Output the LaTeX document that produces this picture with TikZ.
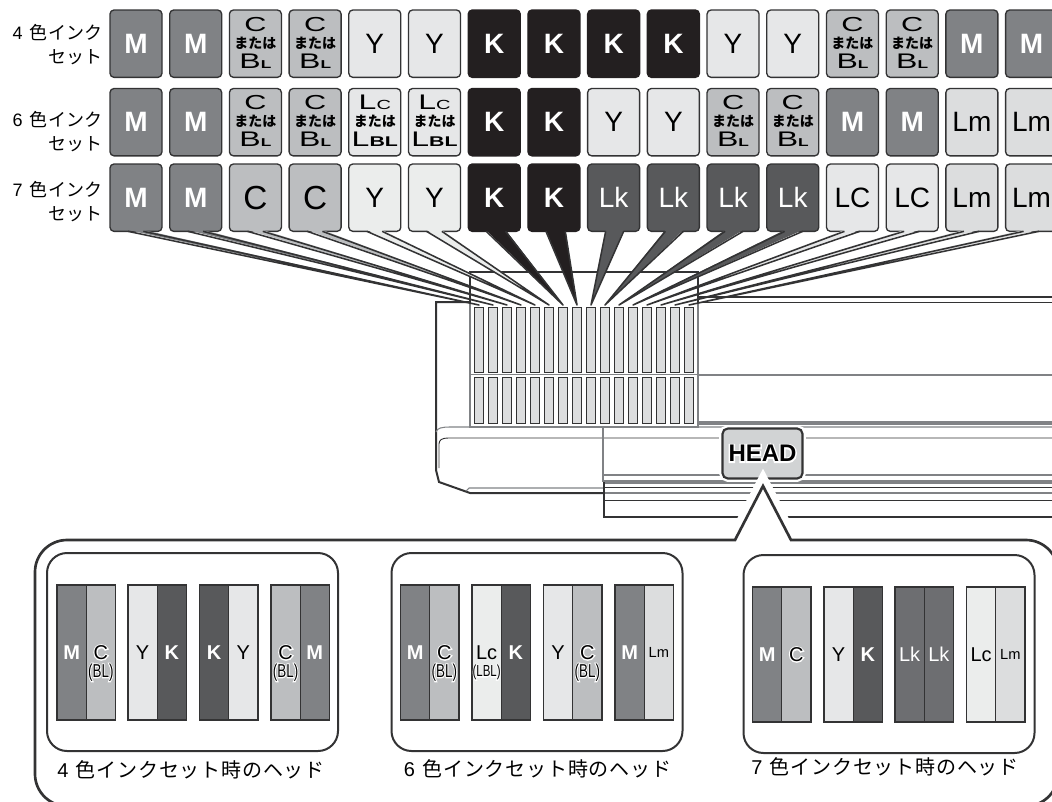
\documentclass[tikz,border=0pt]{standalone}
\usepackage{fontspec}
\usetikzlibrary{positioning}
\setmainfont{Liberation Sans}
\newfontfamily\jpfont{Noto Sans CJK JP}[LetterSpace=2]
\newfontfamily\jpwide{Noto Sans CJK JP}[LetterSpace=4]
\newfontfamily\jpsmall{Noto Sans CJK JP}
\newfontfamily\halofont{Liberation Sans}[FakeBold=12]
\newfontfamily\haloheavy{Liberation Sans Bold}[FakeBold=12]
\definecolor{inkm}   {HTML}{808285}
\definecolor{inkc}   {HTML}{BCBEC0}
\definecolor{inky}   {HTML}{E6E7E8}
\definecolor{inkyb}  {HTML}{EBEDEC}
\definecolor{inkk}   {HTML}{231F20}
\definecolor{inkkh}  {HTML}{58595B}
\definecolor{inklk}  {HTML}{6D6E71}
\definecolor{inklm}  {HTML}{DCDDDE}
\definecolor{inkhead}{HTML}{D1D3D4}
\definecolor{edge}   {HTML}{333334}
\definecolor{rule}   {HTML}{808285}
\newcommand{\squat}[1]{\scalebox{1}[.66]{#1}}
\newcommand{\sized}[1]{\fontsize{#1}{#1}\selectfont}
\newcommand{\orword}{{\jpsmall\bfseries\sized{10.5}または}}
\newcommand{\bigcc}{\squat{\sized{23}C}}
\newcommand{\bigbl}{\squat{\sized{24}B{\sized{13}\textbf{L}}}}
\newcommand{\biglc}{\squat{\sized{24}L{\sized{15}C}}}
\newcommand{\biglbl}{\squat{\sized{24}L{\sized{16}\textbf{BL}}}}
\newcommand{\tiers}[2]{\raisebox{-4.4pt}[0pt][0pt]{\parbox{39pt}{\centering #1\\[-1.25pt]\orword\\[1pt]#2}}}
\newcommand{\halo}[1]{\leavevmode\rlap{\color{white}\halofont #1}#1}
\newcommand{\haloh}[1]{\leavevmode\rlap{\color{white}\haloheavy #1}#1}
\begin{document}
\begin{tikzpicture}[
    x=0.75pt, y=-0.75pt,
    node distance=5.78pt and 5.78pt,
    box/.style={draw=edge, rounded corners=3pt, line width=1pt, outer sep=0pt, inner sep=0pt,
                minimum width=39pt, minimum height=50.5pt, align=center,
                font=\fontsize{21}{14}\selectfont},
    mbox/.style={box, fill=inkm, text=white, font=\fontsize{21}{14}\selectfont\bfseries},
    cbox/.style={box, fill=inkc},
    ybox/.style={box, fill=inky},
    yyox/.style={box, fill=inkyb},
    kbox/.style={box, fill=inkk, draw=inkk, text=white, font=\fontsize{21}{14}\selectfont\bfseries},
    lkbox/.style={box, fill=inkkh, text=white},
    lmbox/.style={box, fill=inklm},
    tail/.style={draw=edge, line width=1.15pt, line join=round},
    setlabel/.style={anchor=east, align=right, inner sep=0pt, font=\fontsize{13.5}{18}\selectfont},
    slot/.style={draw=edge, fill=inklm, line width=0.75pt, minimum width=7.4pt, inner sep=0pt, outer sep=0pt},
    linedark/.style={draw=edge, line width=1.5pt},
    linethin/.style={draw=edge, line width=0.7pt},
    linegray/.style={draw=rule, line width=0.8pt},
    headbox/.style={draw=edge, fill=inkhead, rounded corners=4pt, line width=1.6pt,
                    minimum width=60pt, minimum height=37.5pt, inner sep=0pt,
                    preaction={draw=white, line width=5pt},
                    font=\fontsize{18}{18}\selectfont\bfseries},
    panel/.style={draw=edge, rounded corners=15pt, line width=1.5pt, inner sep=0pt,
                  minimum width=218.25pt, minimum height=148.5pt},
    bar/.style={draw=edge, line width=0.9pt, inner sep=0pt, outer sep=0pt,
                minimum width=21.9pt, minimum height=101.25pt,
                font=\fontsize{15}{15}\selectfont},
    barbold/.style={bar, text=white, font=\fontsize{15}{15}\selectfont\bfseries},
    barwhite/.style={bar, text=white},
    sub/.style={label={[inner sep=0pt, yshift=-15pt, font=\fontsize{14}{14}\selectfont]center:
                \scalebox{.72}[1]{\halo{#1}}}},
    headlabel/.style={anchor=west, inner sep=0pt, font=\fontsize{15}{15}\selectfont},
  ]
    \path[use as bounding box, clip] (0,0) rectangle (1052,801);

    \draw[linethin] (698,302) -- (1060,302);
    \draw[linedark] (698,297) -- (1060,297);
    \draw[linegray] (698,375) -- (1060,375);
    \draw[linegray] (698,422) -- (1060,422);
    \draw[linegray] (698,424) -- (1060,424);
    \draw[linedark] (470,302) -- (436,302) -- (436,470) -- (439,482) -- (470,493) -- (604,493);
    \draw[linegray] (436,432) .. controls (437,428) and (442,427) .. (450,427) -- (1060,427);
    \draw[linethin] (439,468) -- (439,444) .. controls (439,440) and (442,438) .. (448,438) -- (1060,438);
    \draw[linegray] (466,491) -- (469,488) -- (604,488);
    \draw[linegray] (603,427) -- (603,482);
    \draw[linegray] (603,475) -- (1060,475);
    \draw[linegray] (603,481) -- (1060,481);
    \draw[linegray] (603,483) -- (1060,483);
    \draw[linethin] (603,487) -- (1060,487);
    \draw[linegray] (603,493) -- (1060,493);
    \draw[linethin] (603,500) -- (1060,500);
    \draw[linedark] (604,482) -- (604,517) -- (1060,517);

    \draw[linedark] (470,303) -- (470,272) -- (698,272) -- (698,303);
    \draw[linegray] (470,303) -- (470,427) -- (698,427) -- (698,303);
    \draw[linegray] (470,374.5) -- (698,374.5);
    \foreach \n in {1,...,16}{
      \node[slot, minimum height=48.75pt] (s\n) at ({465+14*\n},339.5) {};
      \node[slot, minimum height=34.5pt] (r\n) at ({465+14*\n},400) {};
    }

    \node[setlabel] (labfour) at (103,45)
      {4\hspace{1.5pt} {\jpfont 色インク}\\{\jpfont セット}};
    \node[setlabel] (labsix) at (103,131.5)
      {6\hspace{1.5pt} {\jpfont 色インク}\\{\jpfont セット}};
    \node[setlabel] (labseven) at (103,201.5)
      {7\hspace{1.5pt} {\jpfont 色インク}\\{\jpfont セット}};

    \node[mbox, anchor=north west] (a1) at (110,10) {M};
    \node[mbox, right=of a1] (a2) {M};
    \node[cbox, right=of a2] (a3) {\tiers{\bigcc}{\bigbl}};
    \node[cbox, right=of a3] (a4) {\tiers{\bigcc}{\bigbl}};
    \node[ybox, right=of a4] (a5) {Y};
    \node[ybox, right=of a5] (a6) {Y};
    \node[kbox, right=of a6] (a7) {K};
    \node[kbox, right=of a7] (a8) {K};
    \node[kbox, right=of a8] (a9) {K};
    \node[kbox, right=of a9] (a10) {K};
    \node[ybox, right=of a10] (a11) {Y};
    \node[ybox, right=of a11] (a12) {Y};
    \node[cbox, right=of a12] (a13) {\tiers{\bigcc}{\bigbl}};
    \node[cbox, right=of a13] (a14) {\tiers{\bigcc}{\bigbl}};
    \node[mbox, right=of a14] (a15) {M};
    \node[mbox, right=of a15] (a16) {M};

    \node[mbox, anchor=north west] (b1) at (110,88.5) {M};
    \node[mbox, right=of b1] (b2) {M};
    \node[cbox, right=of b2] (b3) {\tiers{\bigcc}{\bigbl}};
    \node[cbox, right=of b3] (b4) {\tiers{\bigcc}{\bigbl}};
    \node[ybox, right=of b4] (b5) {\tiers{\biglc}{\biglbl}};
    \node[ybox, right=of b5] (b6) {\tiers{\biglc}{\biglbl}};
    \node[kbox, right=of b6] (b7) {K};
    \node[kbox, right=of b7] (b8) {K};
    \node[ybox, right=of b8] (b9) {Y};
    \node[ybox, right=of b9] (b10) {Y};
    \node[cbox, right=of b10] (b11) {\tiers{\bigcc}{\bigbl}};
    \node[cbox, right=of b11] (b12) {\tiers{\bigcc}{\bigbl}};
    \node[mbox, right=of b12] (b13) {M};
    \node[mbox, right=of b13] (b14) {M};
    \node[lmbox, right=of b14] (b15) {Lm};
    \node[lmbox, right=of b15] (b16) {Lm};

    \node[mbox, anchor=north west] (c1) at (110,164) {M};
    \node[mbox, right=of c1] (c2) {M};
    \node[cbox, right=of c2, font=\fontsize{25}{25}\selectfont] (c3) {C};
    \node[cbox, right=of c3, font=\fontsize{25}{25}\selectfont] (c4) {C};
    \node[yyox, right=of c4] (c5) {Y};
    \node[yyox, right=of c5] (c6) {Y};
    \node[kbox, right=of c6] (c7) {K};
    \node[kbox, right=of c7] (c8) {K};
    \node[lkbox, right=of c8] (c9) {Lk};
    \node[lkbox, right=of c9] (c10) {Lk};
    \node[lkbox, right=of c10] (c11) {Lk};
    \node[lkbox, right=of c11] (c12) {Lk};
    \node[ybox, right=of c12] (c13) {LC};
    \node[ybox, right=of c13] (c14) {LC};
    \node[lmbox, right=of c14] (c15) {Lm};
    \node[lmbox, right=of c15] (c16) {Lm};

    \foreach \n/\col/\wide in {1/inkm/25,2/inkm/25,3/inkc/25,4/inkc/25,5/inkyb/25,6/inkyb/25,
        7/inkk/28,8/inkk/28,9/inkkh/27,10/inkkh/27,11/inkkh/27,12/inkkh/27,
        13/inky/25,14/inky/25,15/inklm/25,16/inklm/25}{
      \fill[\col] ([xshift=13.5pt, yshift=1pt]c\n.south west) -- ([yshift=1.5pt]s\n.north)
        -- ([xshift=\wide pt, yshift=1pt]c\n.south west) -- cycle;
      \draw[tail] ([xshift=13.5pt]c\n.south west) -- ([yshift=1.5pt]s\n.north)
        -- ([xshift=\wide pt]c\n.south west);
    }

    \node[headbox] (head) at (762.5,453.5) {\haloh{HEAD}};

    \draw[draw=edge, line width=2pt, fill=white, preaction={draw=white, line width=12pt}]
      (735,540) -- (763,486) -- (791,540) [rounded corners=24pt] -- (1058,540) -- (1058,806)
      -- (35,806) -- (35,540) [sharp corners] -- cycle;

    \node[panel] (pfour) at (192.5,652) {};
    \node[panel] (psix) at (537,652) {};
    \node[panel] (pseven) at (889,654) {};

    \node[barbold, fill=inkm, anchor=north west] (f1) at (57,585) {M};
    \node[bar, fill=inkc, right=0pt of f1, sub={(BL)}] (f2) {\halo{C}};
    \node[bar, fill=inky, anchor=north west] (f3) at (128,585) {Y};
    \node[barbold, fill=inkkh, right=0pt of f3] (f4) {K};
    \node[barbold, fill=inkkh, anchor=north west] (f5) at (199.5,585) {K};
    \node[bar, fill=inky, right=0pt of f5] (f6) {Y};
    \node[bar, fill=inkc, anchor=north west, sub={(BL)}] (f7) at (271,585) {\halo{C}};
    \node[barbold, fill=inkm, right=0pt of f7] (f8) {M};

    \node[barbold, fill=inkm, anchor=north west] (g1) at (400.6,585) {M};
    \node[bar, fill=inkc, right=0pt of g1, sub={(BL)}] (g2) {\halo{C}};
    \node[bar, fill=inkyb, anchor=north west, sub={\fontsize{12}{12}\selectfont(LBL)}] (g3) at (472,585) {Lc};
    \node[barbold, fill=inkkh, right=0pt of g3] (g4) {K};
    \node[bar, fill=inky, anchor=north west] (g5) at (543.5,585) {Y};
    \node[bar, fill=inkc, right=0pt of g5, sub={(BL)}] (g6) {\halo{C}};
    \node[barbold, fill=inkm, anchor=north west] (g7) at (615,585) {M};
    \node[bar, fill=inklm, right=0pt of g7, font=\fontsize{11}{11}\selectfont] (g8) {Lm};

    \node[barbold, fill=inkm, anchor=north west] (e1) at (752.5,587) {M};
    \node[bar, fill=inkc, right=0pt of e1] (e2) {\halo{C}};
    \node[bar, fill=inky, anchor=north west] (e3) at (824,587) {Y};
    \node[barbold, fill=inkkh, right=0pt of e3] (e4) {K};
    \node[barwhite, fill=inklk, anchor=north west] (e5) at (895,587) {Lk};
    \node[barwhite, fill=inklk, right=0pt of e5] (e6) {Lk};
    \node[bar, fill=inkyb, anchor=north west] (e7) at (966.5,587) {Lc};
    \node[bar, fill=inklm, right=0pt of e7, font=\fontsize{11}{11}\selectfont] (e8) {Lm};

    \node[headlabel] (tfour) at (57,770) {4\hspace{1.5pt} {\jpwide 色インクセット時のヘッド}};
    \node[headlabel] (tsix) at (403.6,769) {6\hspace{1.5pt} {\jpwide 色インクセット時のヘッド}};
    \node[headlabel] (tseven) at (751,767) {7\hspace{1.5pt} {\jpwide 色インクセット時のヘッド}};
  \end{tikzpicture}
\end{document}
